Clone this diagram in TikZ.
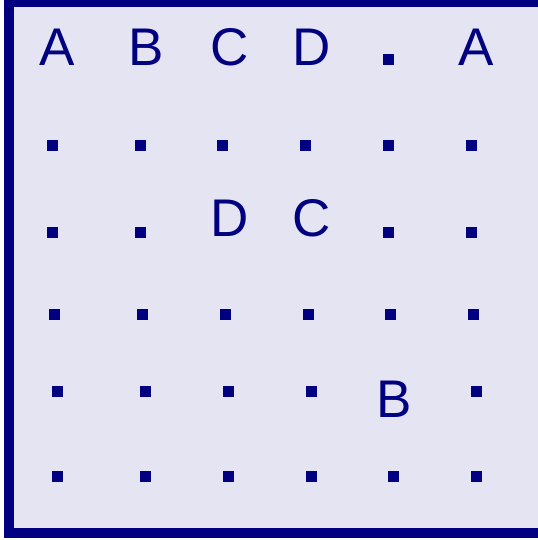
\documentclass[tikz,border=0pt]{standalone}
\usepackage{fontspec}
\setmainfont{Liberation Sans}
\definecolor{navyc}{HTML}{000080}
\definecolor{bgc}{HTML}{E4E4F2}
\begin{document}
\begin{tikzpicture}[x=0.75pt,y=-0.75pt,
  lett/.style={inner sep=0pt,anchor=base,text=navyc,font=\fontsize{39.75}{40}\selectfont},
  sq/.style={fill=navyc,draw=none,minimum size=8.25pt,inner sep=0pt}]
\useasboundingbox (0,0) rectangle (538,540);
\clip (0,0) rectangle (538,540);
\draw[line width=7.5pt,draw=navyc,fill=bgc] (9,2) rectangle (548,533);
% row 1
\node[lett] (r1a) at (57,65) {A};
\node[lett] (r1b) at (146,65) {B};
\node[lett] (r1c) at (230,65) {C};
\node[lett] (r1d) at (312,65) {D};
\node[sq] (r1e) at (388,59.5) {};
\node[lett] (r1f) at (476,65) {A};
% row 2
\foreach \x [count=\i] in {52,140,222,305,388,471}{\node[sq] (r2\i) at (\x,145) {};}
% row 3
\node[sq] (r31) at (52,232) {};
\node[sq] (r32) at (140,232) {};
\node[lett] (r33) at (230,236.5) {D};
\node[lett] (r34) at (312,236.5) {C};
\node[sq] (r35) at (388,232) {};
\node[sq] (r36) at (471,232) {};
% row 4
\foreach \x [count=\i] in {54,142,225,308,390,473}{\node[sq] (r4\i) at (\x,314) {};}
% row 5
\node[sq] (r51) at (57,391) {};
\node[sq] (r52) at (145,391) {};
\node[sq] (r53) at (228,391) {};
\node[sq] (r54) at (311,391) {};
\node[lett] (r55) at (394,417) {B};
\node[sq] (r56) at (476,391) {};
% row 6
\foreach \x [count=\i] in {57,145,228,311,393,476}{\node[sq] (r6\i) at (\x,476) {};}
\end{tikzpicture}
\end{document}
